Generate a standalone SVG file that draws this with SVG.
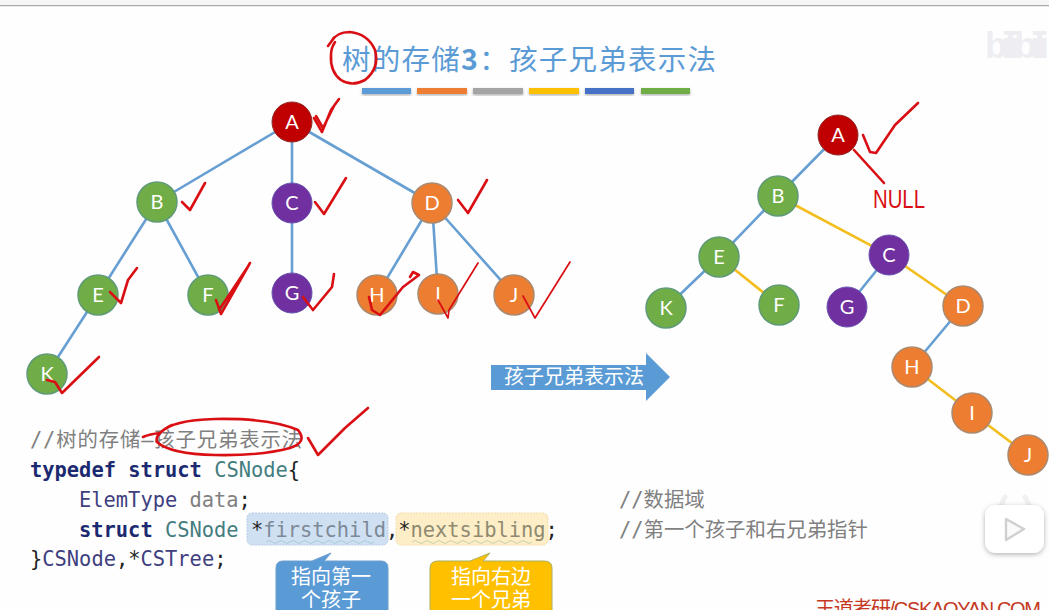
<svg xmlns="http://www.w3.org/2000/svg" width="1049" height="610" viewBox="0 0 1049 610">
<style>
text{font-family:"Noto Sans","Noto Sans CJK SC",sans-serif}
.n text{font-family:Lato,"Noto Sans",sans-serif;font-size:20px;fill:#fff;text-anchor:middle}
.red circle{fill:#c00000;stroke:#8f2a2a;stroke-width:1}
.grn circle{fill:#70ad47;stroke:#5f9a78;stroke-width:1.5}
.pur circle{fill:#7030a0;stroke:#6a55b0;stroke-width:1}
.org circle{fill:#ed7d31;stroke:#a98a70;stroke-width:1.5}
.b{stroke:#679fd3;stroke-width:2.6;fill:none}
.y{stroke:#f2bd1d;stroke-width:2.6;fill:none}
.ink{stroke:#d90f14;stroke-width:2.6;fill:none;stroke-linecap:round;stroke-linejoin:round}
.thin{stroke-width:1.7}
.code{font-family:"DejaVu Sans Mono","Noto Sans CJK SC",monospace;font-size:20.4px}
.kw{font-weight:bold;fill:#1b2a70}
.ty{fill:#437d80}
.et{fill:#3f3f80}
.gr{fill:#808080}
.dk{fill:#222}
.cjk{font-family:"Noto Sans CJK SC",sans-serif}
.bar{stroke:none}
.call{font-family:"Noto Sans CJK SC",sans-serif;font-size:20px;fill:#fff;text-anchor:middle}
</style>
<defs>
<filter id="sh" x="-20%" y="-20%" width="140%" height="150%"><feDropShadow dx="0" dy="1.5" stdDeviation="1.5" flood-color="#000" flood-opacity=".3"/></filter>
<filter id="sh2" x="-30%" y="-30%" width="160%" height="160%"><feDropShadow dx="0" dy="1.5" stdDeviation="2.5" flood-color="#000" flood-opacity=".3"/></filter>
</defs>
<rect width="1049" height="610" fill="#fefefe"/>
<rect width="1049" height="5" fill="#f6f6f6"/>
<rect y="5" width="1049" height="1.2" fill="#a8a8a8"/>

<text x="985" y="58" font-size="36" font-weight="bold" fill="#eeeef2" style="font-family:'Liberation Sans',sans-serif" textLength="64">bilibili</text>

<g id="title">
<text x="342" y="70" class="cjk" font-size="28.5" fill="#5b9bd5" textLength="374">树的存储<tspan font-weight="bold">3</tspan>：孩子兄弟表示法</text>
<g filter="url(#sh)">
<rect class="bar" x="362" y="88" width="49" height="6" fill="#5b9bd5"/>
<rect class="bar" x="417" y="88" width="50" height="6" fill="#ed7d31"/>
<rect class="bar" x="473" y="88" width="50" height="6" fill="#a5a5a5"/>
<rect class="bar" x="529" y="88" width="50" height="6" fill="#ffc000"/>
<rect class="bar" x="585" y="88" width="49" height="6" fill="#4472c4"/>
<rect class="bar" x="641" y="88" width="49" height="6" fill="#70ad47"/>
</g>
</g>

<g id="connectors">
<path class="b" d="M292 122L157 202M292 122V203M292 122L432 203M157 202L98 295M157 202L208 295M292 203V293M432 203L377 295M432 203L438 294M432 203L514 295M98 295L47 374"/>
<path class="b" d="M838 135L778 196L719 257L666 308M889 255L847 307M963 306L912 367"/>
<path class="y" d="M778 196L889 255L963 306M719 257L779 305M912 367L972 413L1028 455"/>
</g>

<g id="L-A" class="n red"><circle cx="292" cy="122" r="20"/><text x="292" y="129">A</text></g>
<g id="L-B" class="n grn"><circle cx="157" cy="202" r="20"/><text x="157" y="209">B</text></g>
<g id="L-C" class="n pur"><circle cx="292" cy="203" r="20"/><text x="292" y="210">C</text></g>
<g id="L-D" class="n org"><circle cx="432" cy="203" r="20"/><text x="432" y="210">D</text></g>
<g id="L-E" class="n grn"><circle cx="98" cy="295" r="20"/><text x="98" y="302">E</text></g>
<g id="L-F" class="n grn"><circle cx="208" cy="295" r="20"/><text x="208" y="302">F</text></g>
<g id="L-G" class="n pur"><circle cx="292" cy="293" r="20"/><text x="292" y="300">G</text></g>
<g id="L-H" class="n org"><circle cx="377" cy="295" r="20"/><text x="377" y="302">H</text></g>
<g id="L-I" class="n org"><circle cx="438" cy="294" r="20"/><text x="438" y="301">I</text></g>
<g id="L-J" class="n org"><circle cx="514" cy="295" r="20"/><text x="514" y="302">J</text></g>
<g id="L-K" class="n grn"><circle cx="47" cy="374" r="20"/><text x="47" y="381">K</text></g>

<g id="R-A" class="n red"><circle cx="838" cy="135" r="20"/><text x="838" y="142">A</text></g>
<g id="R-B" class="n grn"><circle cx="778" cy="196" r="20"/><text x="778" y="203">B</text></g>
<g id="R-C" class="n pur"><circle cx="889" cy="255" r="20"/><text x="889" y="262">C</text></g>
<g id="R-D" class="n org"><circle cx="963" cy="306" r="20"/><text x="963" y="313">D</text></g>
<g id="R-E" class="n grn"><circle cx="719" cy="257" r="20"/><text x="719" y="264">E</text></g>
<g id="R-F" class="n grn"><circle cx="779" cy="305" r="20"/><text x="779" y="312">F</text></g>
<g id="R-G" class="n pur"><circle cx="847" cy="307" r="20"/><text x="847" y="314">G</text></g>
<g id="R-H" class="n org"><circle cx="912" cy="367" r="20"/><text x="912" y="374">H</text></g>
<g id="R-I" class="n org"><circle cx="972" cy="413" r="20"/><text x="972" y="420">I</text></g>
<g id="R-J" class="n org"><circle cx="1028" cy="455" r="20"/><text x="1028" y="462">J</text></g>
<g id="R-K" class="n grn"><circle cx="666" cy="308" r="20"/><text x="666" y="315">K</text></g>

<g id="big-arrow">
<path d="M491 365H646V353L670 377L646 401V390H491Z" fill="#5b9bd5"/>
<text x="504" y="384" class="cjk" font-size="20" fill="#fff">孩子兄弟表示法</text>
</g>

<g id="code">
<rect x="247" y="513" width="141" height="32" rx="5" fill="#cfe0f3" stroke="#b9cde4" stroke-dasharray="2 1"/>
<rect x="396" y="513" width="152" height="32" rx="5" fill="#fdeec8" stroke="#f3dca8" stroke-dasharray="2 1"/>
<path d="M266 542q3 -3 6 0t6 0t6 0t6 0t6 0t6 0t6 0t6 0t6 0t6 0t6 0t6 0t6 0t6 0t6 0t6 0t6 0t6 0" fill="none" stroke="#a9cbd8" stroke-width="1"/>
<path d="M412 542q3 -3 6 0t6 0t6 0t6 0t6 0t6 0t6 0t6 0t6 0t6 0t6 0t6 0t6 0t6 0t6 0t6 0t6 0t6 0t6 0t6 0" fill="none" stroke="#c9d0a8" stroke-width="1"/>
<text x="30" y="447" class="code gr" textLength="272">//树的存储—孩子兄弟表示法</text>
<text x="30" y="477" class="code"><tspan class="kw">typedef struct</tspan> <tspan class="ty">CSNode</tspan><tspan class="dk">{</tspan></text>
<text x="79" y="507" class="code"><tspan class="et">ElemType</tspan> <tspan class="gr">data</tspan><tspan class="dk">;</tspan></text>
<text x="79" y="537" class="code"><tspan class="kw">struct</tspan> <tspan class="ty">CSNode</tspan> <tspan class="dk">*</tspan><tspan fill="#7d8a96">firstchild</tspan><tspan class="dk">,*</tspan><tspan fill="#8f8a70">nextsibling</tspan><tspan class="dk">;</tspan></text>
<text x="30" y="566" class="code"><tspan class="dk">}</tspan><tspan class="et">CSNode</tspan><tspan class="dk">,*</tspan><tspan class="et">CSTree</tspan><tspan class="dk">;</tspan></text>
<text x="619" y="507" class="code gr">//数据域</text>
<text x="619" y="537" class="code gr">//第一个孩子和右兄弟指针</text>
</g>

<g id="callout-blue">
<path d="M283 561H312L331 553L324 561H381Q388 561 388 568V612H276V568Q276 561 283 561Z" fill="#5b9bd5" stroke="#6f9fd0"/>
<text x="331" y="584" class="call">指向第一</text>
<text x="331" y="607" class="call">个孩子</text>
</g>
<g id="callout-yellow">
<path d="M438 561H470L490 553L483 561H544Q552 561 552 568V612H430V568Q430 561 438 561Z" fill="#ffc000" stroke="#a8b060"/>
<text x="491" y="584" class="call">指向右边</text>
<text x="491" y="607" class="call">一个兄弟</text>
</g>

<g id="play-badge">
<path d="M1001 505L1005 497M1029 505L1025 497" stroke="#f0f0f0" stroke-width="5" stroke-linecap="round"/>
<rect x="985" y="505" width="59" height="48" rx="11" fill="#fff" filter="url(#sh2)"/>
<path d="M1006 519L1024 529L1006 540Z" fill="#fafafa" stroke="#d0d0d0" stroke-width="2.4" stroke-linejoin="round"/>
</g>

<text x="815" y="616" font-size="20" fill="#c4391f" style="font-family:'Liberation Sans','Noto Sans CJK SC',sans-serif" textLength="226">王道考研/CSKAOYAN.COM</text>

<g id="ink">
<path class="ink" d="M328 46L331 42Q336 32 350 32Q368 34 375 50Q380 68 365 80Q352 87 341 80Q330 72 331 55Q331 48 335 42"/>
<path class="ink" d="M143 437Q150 434 160 433Q172 420 215 419Q270 418 298 430Q308 442 290 448Q260 456 215 455Q170 454 157 442Q154 434 172 425"/>
<path class="ink" d="M308 438L318 455L345 428L368 408"/>
<path class="ink" d="M314 118L322 132L331 110L339 99M316 116L323 128L334 106"/>
<path class="ink" d="M315 202L324 214L346 178"/>
<path class="ink" d="M458 200L468 213L487 180"/>
<path class="ink" d="M182 202L190 210L205 183"/>
<path class="ink" d="M110 292L121 303L128 280L137 268"/>
<path class="ink" d="M216 300L221 314L250 263M219 310L247 268"/>
<path class="ink" d="M303 297L313 310L332 287L334 274"/>
<path class="ink" d="M369 297L372 310L380 315L403 287L419 275L413 272L410 277"/>
<path class="ink thin" d="M438 300L448 318L449 310L478 263"/>
<path class="ink thin" d="M523 296L535 318L570 262"/>
<path class="ink" d="M47 380L55 382L62 393L99 357"/>
<path class="ink" d="M863 135L870 152L876 153L895 125L918 103"/>
<path class="ink" d="M854 150L884 183"/>
<text x="873" y="208" font-size="26" fill="#d90f14" style="font-family:'Liberation Sans',sans-serif" textLength="52" lengthAdjust="spacingAndGlyphs">NULL</text>
</g>
</svg>
